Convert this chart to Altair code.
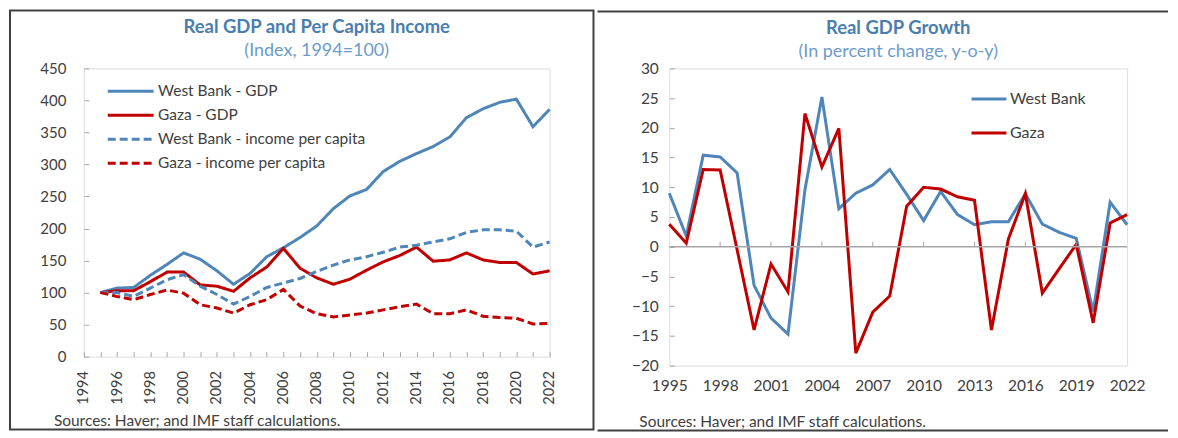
import altair as alt
import pandas as pd

# ---------------- data ----------------
years = list(range(1995, 2023))

left_series = ["West Bank - GDP", "Gaza - GDP",
               "West Bank - income per capita", "Gaza - income per capita"]
wb_gdp = [100, 107, 108, 127, 144, 162, 152, 134, 113, 130, 156, 170, 186, 204,
          231, 251, 261, 289, 305, 317, 328, 343, 373, 387, 397, 402, 359, 386]
gaza_gdp = [100, 103, 103, 117, 132, 132, 112, 110, 102, 123, 140, 169, 138, 123,
            113, 121, 135, 148, 158, 171, 149, 151, 162, 151, 147, 147, 129, 134]
wb_pc = [100, 100, 94, 107, 120, 128, 110, 97, 82, 94, 108, 115, 122, 133,
         143, 151, 156, 163, 171, 174, 179, 184, 194, 198, 198, 196, 171, 179]
gaza_pc = [100, 94, 89, 97, 104, 99, 81, 76, 68, 81, 89, 105, 79, 67,
           62, 65, 68, 73, 78, 82, 67, 67, 73, 63, 61, 60, 51, 52]

growth_series = ["West Bank", "Gaza"]
wb_growth = [9.0, 1.8, 15.4, 15.1, 12.4, -6.5, -12.0, -14.7, 9.6, 25.2, 6.4, 9.0,
             10.4, 13.0, 8.8, 4.4, 9.3, 5.4, 3.7, 4.2, 4.2, 8.9, 3.8, 2.4, 1.4,
             -10.9, 7.5, 3.7]
gaza_growth = [3.8, 0.6, 13.0, 12.9, -0.5, -14.0, -2.9, -7.6, 22.4, 13.4, 19.9,
               -17.9, -11.0, -8.3, 6.8, 10.0, 9.7, 8.4, 7.8, -14.0, 1.3, 8.9,
               -7.8, -3.7, 0.4, -12.8, 4.0, 5.4]

left_x_ticks = list(range(1994, 2023))
left_y_ticks = list(range(0, 451, 50))
right_x_ticks = list(range(1995, 2023, 3))
right_y_ticks = list(range(-20, 31, 5))
zero_tick_years = list(range(1998, 2020, 3))

title_left = "Real GDP and Per Capita Income"
subtitle_left = "(Index, 1994=100)"
title_right = "Real GDP Growth"
subtitle_right = "(In percent change, y-o-y)"
source_note = "Sources: Haver; and IMF staff calculations."

# ---------------- style ----------------
FONT = "Lato"
BLUE = "#4F86BA"
RED = "#C00000"
TITLE_BLUE = "#4A7DB0"
SUB_BLUE = "#6C9CCB"
TEXT = "#404040"
TICK = "#A6A6A6"
FRAME = "#404040"

LW, LH = 467, 289
RW, RH = 459, 298

one = pd.DataFrame({"k": [0]})


def text_layer(txt, x, y, size, color, weight="normal", align="center"):
    return alt.Chart(pd.DataFrame({"t": [txt]})).mark_text(
        align=align, baseline="middle", fontSize=size, color=color,
        fontWeight=weight, font=FONT
    ).encode(text="t:N", x=alt.value(x), y=alt.value(y))


# ---------------- left panel ----------------
rows = []
for name, vals in zip(left_series, [wb_gdp, gaza_gdp, wb_pc, gaza_pc]):
    for yr, v in zip(years, vals):
        rows.append({"year": yr, "value": v, "series": name})
left_df = pd.DataFrame(rows)

left_legend = alt.Legend(
    title=None, orient="none", legendX=22.5, legendY=15, symbolType="stroke",
    symbolSize=2116, symbolStrokeWidth=3, clipHeight=16, rowPadding=7,
    labelOffset=3, labelFontSize=15.5, labelColor=TEXT, labelFont=FONT,
    labelFontWeight="normal", padding=0, labelLimit=400
)

left_lines = alt.Chart(left_df).mark_line(strokeWidth=3).encode(
    x=alt.X("year:Q", scale=alt.Scale(domain=[1994, 2022], nice=False, zero=False),
            axis=alt.Axis(title=None, values=left_x_ticks, format="d",
                          labelExpr="datum.value % 2 == 0 ? datum.label : ''",
                          labelAngle=270, labelFlush=False, labelOverlap=False,
                          offset=-5, tickSize=5,
                          tickColor=TICK, domain=False, grid=False,
                          labelPadding=14, labelFontSize=14.5, labelColor=TEXT,
                          labelFont=FONT)),
    y=alt.Y("value:Q", scale=alt.Scale(domain=[0, 450], nice=False),
            axis=alt.Axis(title=None, values=left_y_ticks, offset=-5, tickSize=5,
                          tickColor=TICK, domain=False, grid=False,
                          labelOverlap=False,
                          labelPadding=18, labelFontSize=15, labelColor=TEXT,
                          labelFont=FONT)),
    color=alt.Color("series:N", scale=alt.Scale(domain=left_series,
                                                range=[BLUE, RED, BLUE, RED]),
                    legend=left_legend),
    strokeDash=alt.StrokeDash("series:N",
                              scale=alt.Scale(domain=left_series,
                                              range=[[1, 0], [1, 0], [8, 4], [8, 4]]),
                              legend=left_legend),
)

left_frame = alt.Chart(one).mark_rect(fillOpacity=0, stroke=FRAME, strokeWidth=2).encode(
    x=alt.value(-74), x2=alt.value(511), y=alt.value(-58), y2=alt.value(362)
)

left = alt.layer(
    left_frame,
    left_lines,
    text_layer(title_left, LW / 2, -41, 18.5, TITLE_BLUE, "bold"),
    text_layer(subtitle_left, LW / 2, -17, 18, SUB_BLUE),
    text_layer(source_note, -30, 354, 15.5, TEXT, align="left"),
).properties(width=LW, height=LH)

# ---------------- right panel ----------------
rows = []
for name, vals in zip(growth_series, [wb_growth, gaza_growth]):
    for yr, v in zip(years, vals):
        rows.append({"year": yr, "value": v, "series": name})
right_df = pd.DataFrame(rows)

rx_scale = alt.Scale(domain=[1995, 2022], nice=False, zero=False)
ry_scale = alt.Scale(domain=[-20, 30], nice=False, zero=False)
rx_axis = alt.Axis(title=None, values=right_x_ticks, format="d",
                   labelFlush=False, labelOverlap=False, ticks=False,
                   domain=False, grid=False,
                   labelPadding=13, labelFontSize=15.5, labelColor=TEXT,
                   labelFont=FONT)
ry_axis = alt.Axis(title=None, values=right_y_ticks, offset=-5, tickSize=5,
                   tickColor=TICK, domain=False, grid=False,
                   labelOverlap=False,
                   labelPadding=11, labelFontSize=15.5, labelColor=TEXT,
                   labelFont=FONT)

right_lines = alt.Chart(right_df).mark_line(strokeWidth=3).encode(
    x=alt.X("year:Q", scale=rx_scale, axis=rx_axis),
    y=alt.Y("value:Q", scale=ry_scale, axis=ry_axis),
    color=alt.Color("series:N", scale=alt.Scale(domain=growth_series, range=[BLUE, RED]),
                    legend=alt.Legend(title=None, orient="none", legendX=301.5,
                                      legendY=22.7, symbolType="stroke",
                                      symbolSize=1225, symbolStrokeWidth=3,
                                      clipHeight=16, rowPadding=18, labelOffset=2,
                                      labelFontSize=16, labelColor=TEXT,
                                      labelFontWeight="normal",
                                      labelFont=FONT, padding=0)),
)

zero_line = alt.Chart(pd.DataFrame({"value": [0]})).mark_rule(
    color=TICK, strokeWidth=1.5).encode(
    y=alt.Y("value:Q", scale=ry_scale, axis=ry_axis))
zero_ticks = alt.Chart(pd.DataFrame({"year": zero_tick_years,
                                     "value": [0] * len(zero_tick_years),
                                     "top": [0.85] * len(zero_tick_years)})).mark_rule(
    color=TICK, strokeWidth=1).encode(
    x=alt.X("year:Q", scale=rx_scale, axis=rx_axis),
    y=alt.Y("value:Q", scale=ry_scale, axis=ry_axis), y2="top:Q")

right_top = alt.Chart(one).mark_rule(color=FRAME, strokeWidth=2).encode(
    x=alt.value(-72), x2=alt.value(500), y=alt.value(-57))
right_bottom = alt.Chart(one).mark_rule(color=FRAME, strokeWidth=2).encode(
    x=alt.value(-72), x2=alt.value(500), y=alt.value(363))

right = alt.layer(
    right_top, right_bottom,
    right_lines,
    zero_line, zero_ticks,
    text_layer(title_right, RW / 2, -40, 18.5, TITLE_BLUE, "bold"),
    text_layer(subtitle_right, RW / 2, -16, 18, SUB_BLUE),
    text_layer(source_note, -30, 355, 15.5, TEXT, align="left"),
).properties(width=RW, height=RH)

chart = alt.hconcat(left, right, spacing=0).properties(padding=0).resolve_scale(
    color="independent", strokeDash="independent", x="independent", y="independent"
).resolve_legend(
    color="independent", strokeDash="independent"
).configure_view(
    stroke="#BFBFBF", strokeWidth=1.5
).configure(font=FONT)

chart.save("out.html", embed_options={"renderer": "svg", "actions": False})
